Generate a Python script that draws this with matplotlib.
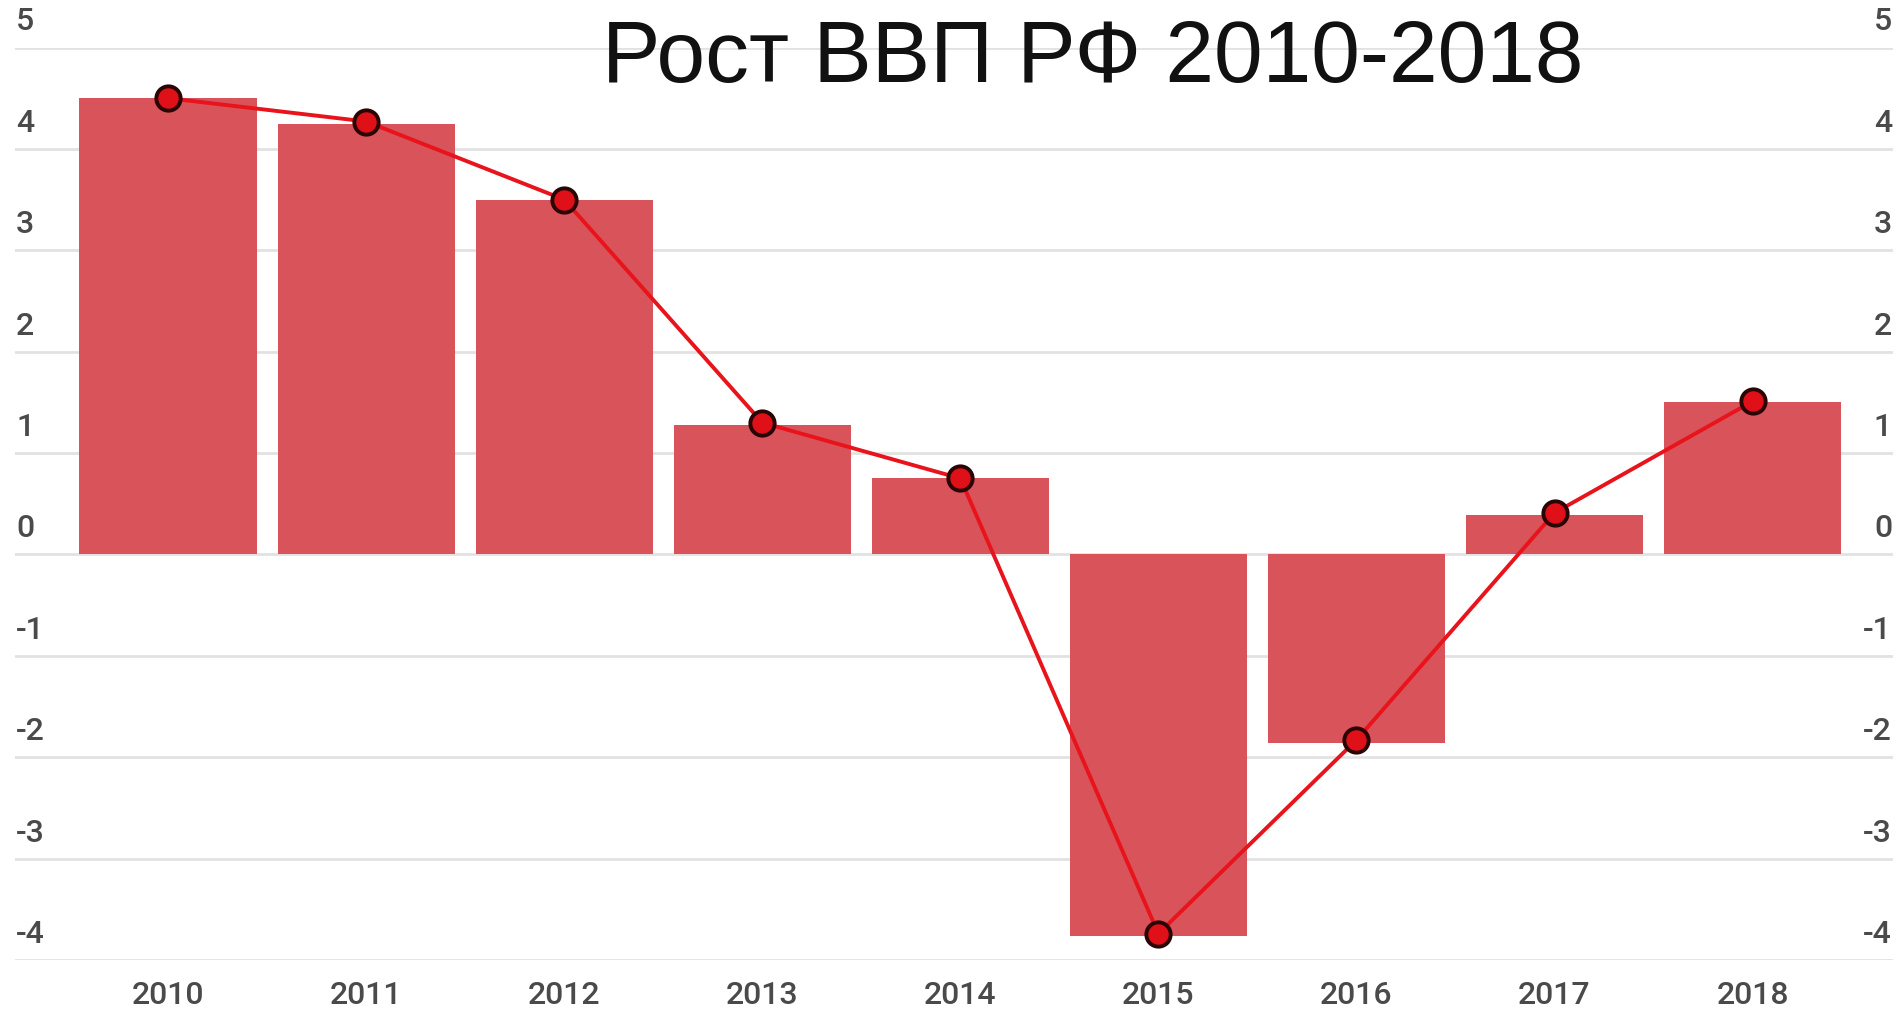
import matplotlib
matplotlib.use("Agg")
import matplotlib.pyplot as plt
from matplotlib.transforms import blended_transform_factory, ScaledTranslation

years = ["2010", "2011", "2012", "2013", "2014", "2015", "2016", "2017", "2018"]
bar_values = [4.5, 4.25, 3.5, 1.28, 0.75, -3.76, -1.86, 0.39, 1.5]
line_values = [4.5, 4.27, 3.5, 1.3, 0.75, -3.74, -1.83, 0.41, 1.51]
y_ticks = [5, 4, 3, 2, 1, 0, -1, -2, -3, -4]
title = "Рост ВВП РФ 2010-2018"

W, H = 1901, 1016
fig = plt.figure(figsize=(W / 100, H / 100), dpi=100)
fig.patch.set_facecolor("white")

left_px, right_px, top_px, bot_px = 15, 1893, 47.5, 960
ax = fig.add_axes([left_px / W, 1 - bot_px / H, (right_px - left_px) / W, (bot_px - top_px) / H])

x = list(range(len(years)))
ax.set_xlim(-0.773, 8.709)
ax.set_ylim(-4, 5)

for t in y_ticks:
    ax.axhline(t, color="#e2e2e2", lw=2.0, zorder=0)

ax.bar(x, bar_values, width=0.895, color="#d9535a", zorder=2)
ax.plot(x, line_values, color="#e8131b", lw=2.8, zorder=3, clip_on=False,
        marker="o", markersize=17.5, markerfacecolor="#e01018",
        markeredgecolor="#2a0505", markeredgewidth=2.8)

for s in ax.spines.values():
    s.set_visible(False)
ax.set_yticks([])
ax.set_xticks(x)
ax.set_xticklabels(years, fontsize=23, color="#4a4a4a", family="Roboto", fontweight="medium")
ax.tick_params(axis="x", length=0, pad=15)

trL = blended_transform_factory(fig.transFigure, ax.transData)
for t in y_ticks:
    ax.text(16 / W, t, f"{t}", transform=trL + ScaledTranslation(0, 8 / 72, fig.dpi_scale_trans),
            ha="left", va="bottom", fontsize=23, color="#4a4a4a", family="Roboto",
            fontweight="medium", clip_on=False)
    ax.text(1892 / W, t, f"{t}", transform=trL + ScaledTranslation(0, 8 / 72, fig.dpi_scale_trans),
            ha="right", va="bottom", fontsize=23, color="#4a4a4a", family="Roboto",
            fontweight="medium", clip_on=False)

fig.text(0.575, 1 - 82 / H, title, ha="center", va="baseline", fontsize=63,
         family="Liberation Sans", color="#111111")

fig.savefig("out.png", dpi=100, facecolor="white")
